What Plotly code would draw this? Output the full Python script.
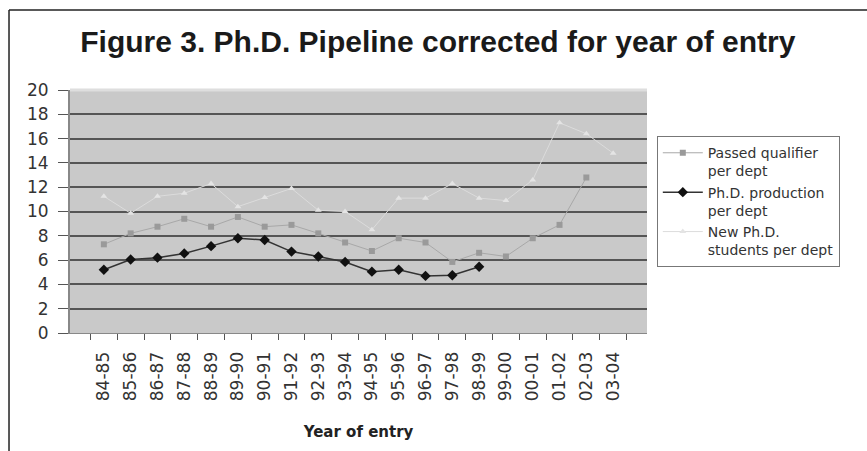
import plotly.graph_objects as go

years = ["84-85", "85-86", "86-87", "87-88", "88-89", "89-90", "90-91", "91-92", "92-93", "93-94",
         "94-95", "95-96", "96-97", "97-98", "98-99", "99-00", "00-01", "01-02", "02-03", "03-04"]
passed_qualifier = [7.3, 8.2, 8.75, 9.4, 8.75, 9.55, 8.75, 8.9, 8.2, 7.45,
                    6.75, 7.8, 7.45, 5.85, 6.6, 6.3, 7.8, 8.9, 12.8, None]
phd_production = [5.2, 6.05, 6.2, 6.55, 7.15, 7.8, 7.65, 6.7, 6.3, 5.85,
                  5.05, 5.2, 4.7, 4.75, 5.45, None, None, None, None, None]
new_students = [11.25, 9.85, 11.25, 11.5, 12.3, 10.4, 11.15, 11.9, 10.1, 10.0,
                8.5, 11.1, 11.1, 12.3, 11.1, 10.9, 12.6, 17.3, 16.4, 14.8]

fig = go.Figure()
fig.add_trace(go.Scatter(x=years, y=passed_qualifier, name="Passed qualifier<br>per dept",
                         mode="lines+markers", line=dict(color="#a8a8a8", width=1),
                         marker=dict(symbol="square", size=6, color="#9a9a9a")))
fig.add_trace(go.Scatter(x=years, y=phd_production, name="Ph.D. production<br>per dept",
                         mode="lines+markers", line=dict(color="#333333", width=1.5),
                         marker=dict(symbol="diamond", size=8, color="#111111")))
fig.add_trace(go.Scatter(x=years, y=new_students, name="New Ph.D.<br>students per dept",
                         mode="lines+markers", line=dict(color="#dcdcdc", width=1),
                         marker=dict(symbol="triangle-up", size=6, color="#e4e4e4")))

fig.update_layout(
    width=867, height=451,
    margin=dict(l=70, r=220, t=90, b=118),
    paper_bgcolor="white", plot_bgcolor="#c9c9c9",
    font=dict(family="DejaVu Sans, sans-serif", color="#333333"),
    title=dict(text="<b>Figure 3. Ph.D. Pipeline corrected for year of entry</b>",
               font=dict(size=30, color="#1a1a1a", family="Liberation Sans, Arial, sans-serif"),
               x=0.505, xanchor="center", y=0.907, yanchor="middle"),
    showlegend=True,
    legend=dict(x=1.017, y=0.81, xanchor="left", yanchor="top", valign="top",
                bordercolor="#777777", borderwidth=1, bgcolor="white",
                font=dict(size=14, color="#333333", family="DejaVu Sans, sans-serif"),
                tracegroupgap=0, itemwidth=40),
    xaxis=dict(type="category", tickangle=-90, tickson="boundaries", ticks="outside",
               ticklen=6, tickcolor="#555555", showline=True, linecolor="#888888", linewidth=1,
               showgrid=False, ticklabelstandoff=11,
               tickfont=dict(size=17, color="#333333", family="DejaVu Sans, sans-serif"),
               title=dict(text="<b>Year of entry</b>",
                          font=dict(size=15, color="#222222", family="DejaVu Sans, sans-serif"),
                          standoff=26)),
    yaxis=dict(range=[0, 20], dtick=2, ticks="outside", ticklen=10, tickcolor="#555555",
               showline=True, linecolor="#888888", linewidth=2, gridcolor="#555555", gridwidth=2,
               zeroline=False, ticklabelstandoff=6,
               tickfont=dict(size=17, color="#333333", family="DejaVu Sans, sans-serif")),
    shapes=[
        dict(type="line", xref="paper", yref="paper", x0=0, x1=1, y0=1, y1=1,
             line=dict(color="#dedede", width=3)),
        dict(type="line", xref="paper", yref="paper", x0=-0.1057, x1=-0.1057, y0=-0.49, y1=1.329,
             line=dict(color="#222222", width=1.5)),
        dict(type="line", xref="paper", yref="paper", x0=-0.1057, x1=1.39, y0=1.329, y1=1.329,
             line=dict(color="#222222", width=1.5)),
    ],
)

fig.write_html("out.html")
